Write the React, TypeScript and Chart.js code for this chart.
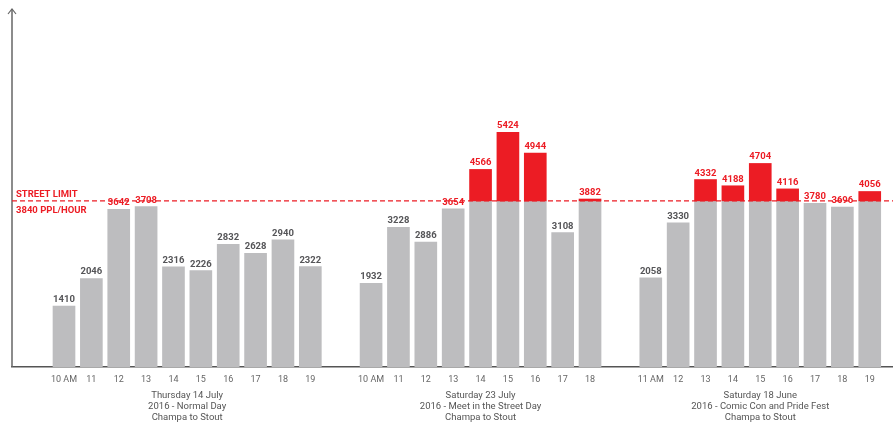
import React, { useEffect, useRef } from "react";
import { Chart, registerables } from "chart.js";

Chart.register(...registerables);

const LIMIT = 3840;
const RED_LABEL_FROM = 3600;
const Y_MAX = 8250;

const group1Labels = ["10 AM", "11", "12", "13", "14", "15", "16", "17", "18", "19"];
const group1Values = [1410, 2046, 3642, 3708, 2316, 2226, 2832, 2628, 2940, 2322];

const group2Labels = ["10 AM", "11", "12", "13", "14", "15", "16", "17", "18"];
const group2Values = [1932, 3228, 2886, 3654, 4566, 5424, 4944, 3108, 3882];

const group3Labels = ["11 AM", "12", "13", "14", "15", "16", "17", "18", "19"];
const group3Values = [2058, 3330, 4332, 4188, 4704, 4116, 3780, 3696, 4056];

const group1Title = ["Thursday 14 July", "2016 - Normal Day", "Champa to Stout"];
const group2Title = ["Saturday 23 July", "2016 - Meet in the Street Day", "Champa to Stout"];
const group3Title = ["Saturday 18 June", "2016 - Comic Con and Pride Fest", "Champa to Stout"];

const limitLabelTop = "STREET LIMIT";
const limitLabelBottom = "3840 PPL/HOUR";

const GROUP_GAP = 2.22;

const RED = "#ec1c24";
const GRAY = "#bdbdbf";
const LABEL_GRAY = "#555558";
const FONT = "Roboto, 'DejaVu Sans', sans-serif";

const groups = [
  { labels: group1Labels, values: group1Values, title: group1Title },
  { labels: group2Labels, values: group2Values, title: group2Title },
  { labels: group3Labels, values: group3Values, title: group3Title },
];

// build slot positions along a linear index axis
const positions: number[] = [];
const values: number[] = [];
const tickLabels: string[] = [];
const groupCenters: number[] = [];
{
  let p = 0;
  groups.forEach((g, gi) => {
    if (gi > 0) p += GROUP_GAP - 1;
    const start = p;
    g.values.forEach((v, i) => {
      positions.push(p);
      values.push(v);
      tickLabels.push(g.labels[i]);
      p += 1;
    });
    groupCenters.push((start + p - 1) / 2);
  });
}

const overlayPlugin = {
  id: "overlay",
  afterDatasetsDraw(chart: any) {
    const { ctx, chartArea, scales } = chart;
    const x = scales.x;
    const y = scales.y;
    ctx.save();

    // y axis line with arrow
    ctx.strokeStyle = "#666";
    ctx.lineWidth = 1.5;
    ctx.beginPath();
    ctx.moveTo(chartArea.left, chartArea.bottom);
    ctx.lineTo(chartArea.left, 9);
    ctx.stroke();
    ctx.lineWidth = 1.2;
    ctx.beginPath();
    ctx.moveTo(chartArea.left - 4, 14);
    ctx.lineTo(chartArea.left, 9);
    ctx.lineTo(chartArea.left + 4, 14);
    ctx.stroke();

    // value labels
    ctx.font = `bold 9.5px ${FONT}`;
    ctx.textAlign = "center";
    ctx.textBaseline = "alphabetic";
    positions.forEach((p, i) => {
      const v = values[i];
      ctx.fillStyle = v >= RED_LABEL_FROM ? RED : LABEL_GRAY;
      ctx.fillText(String(v), x.getPixelForValue(p), y.getPixelForValue(v) - 4);
    });

    // street limit line
    const ly = y.getPixelForValue(LIMIT);
    ctx.strokeStyle = RED;
    ctx.lineWidth = 1.3;
    ctx.setLineDash([5, 3]);
    ctx.beginPath();
    ctx.moveTo(chartArea.left, ly);
    ctx.lineTo(chartArea.right, ly);
    ctx.stroke();
    ctx.setLineDash([]);

    ctx.fillStyle = RED;
    ctx.textAlign = "left";
    ctx.font = `bold 9.5px ${FONT}`;
    ctx.textBaseline = "alphabetic";
    ctx.fillText(limitLabelTop, chartArea.left + 4, ly - 4);
    ctx.textBaseline = "top";
    ctx.fillText(limitLabelBottom, chartArea.left + 4, ly + 5);

    // group titles
    ctx.fillStyle = "#555";
    ctx.textAlign = "center";
    ctx.textBaseline = "middle";
    ctx.font = `9.5px ${FONT}`;
    groups.forEach((g, gi) => {
      const cx = x.getPixelForValue(groupCenters[gi]);
      g.title.forEach((line, li) => {
        ctx.fillText(line, cx, chartArea.bottom + 29 + li * 11);
      });
    });

    ctx.restore();
  },
};

export default function App() {
  const canvasRef = useRef<HTMLCanvasElement | null>(null);

  useEffect(() => {
    if (!canvasRef.current) return;
    const grayData = positions.map((p, i) => ({ x: p, y: Math.min(values[i], LIMIT) }));
    const redData = positions
      .map((p, i) => ({ x: p, v: values[i] }))
      .filter((d) => d.v > LIMIT)
      .map((d) => ({ x: d.x, y: [LIMIT, d.v] }));

    const chart = new Chart(canvasRef.current, {
      type: "bar",
      data: {
        datasets: [
          {
            label: "over limit",
            data: redData as any,
            backgroundColor: RED,
            barThickness: 22,
            grouped: false,
            order: 0,
          } as any,
          {
            label: "people",
            data: grayData as any,
            backgroundColor: GRAY,
            barThickness: 22,
            grouped: false,
            order: 1,
          } as any,
        ],
      },
      options: {
        animation: false,
        responsive: true,
        maintainAspectRatio: false,
        layout: { padding: { left: 12, top: 10, right: 0, bottom: 0 } },
        plugins: {
          legend: { display: false },
          tooltip: { enabled: false },
        },
        scales: {
          x: {
            type: "linear",
            offset: false,
            min: -1.9,
            max: 30.29,
            grid: { display: false, drawTicks: false, offset: false },
            border: { display: true, color: "#555", width: 1.5 },
            afterBuildTicks: (scale: any) => {
              scale.ticks = positions.map((v) => ({ value: v }));
            },
            afterFit: (scale: any) => {
              scale.height = 61;
            },
            ticks: {
              autoSkip: false,
              maxRotation: 0,
              minRotation: 0,
              padding: 7,
              color: "#666",
              font: { size: 9, family: FONT },
              callback: (_v: any, i: number) => tickLabels[i],
            },
          },
          y: {
            display: false,
            min: 0,
            max: Y_MAX,
          },
        },
      },
      plugins: [overlayPlugin],
    } as any);
    return () => chart.destroy();
  }, []);

  return (
    <div style={{ position: "fixed", left: 0, top: 0, width: 893, height: 428, background: "#fff" }}>
      <canvas ref={canvasRef} />
    </div>
  );
}
